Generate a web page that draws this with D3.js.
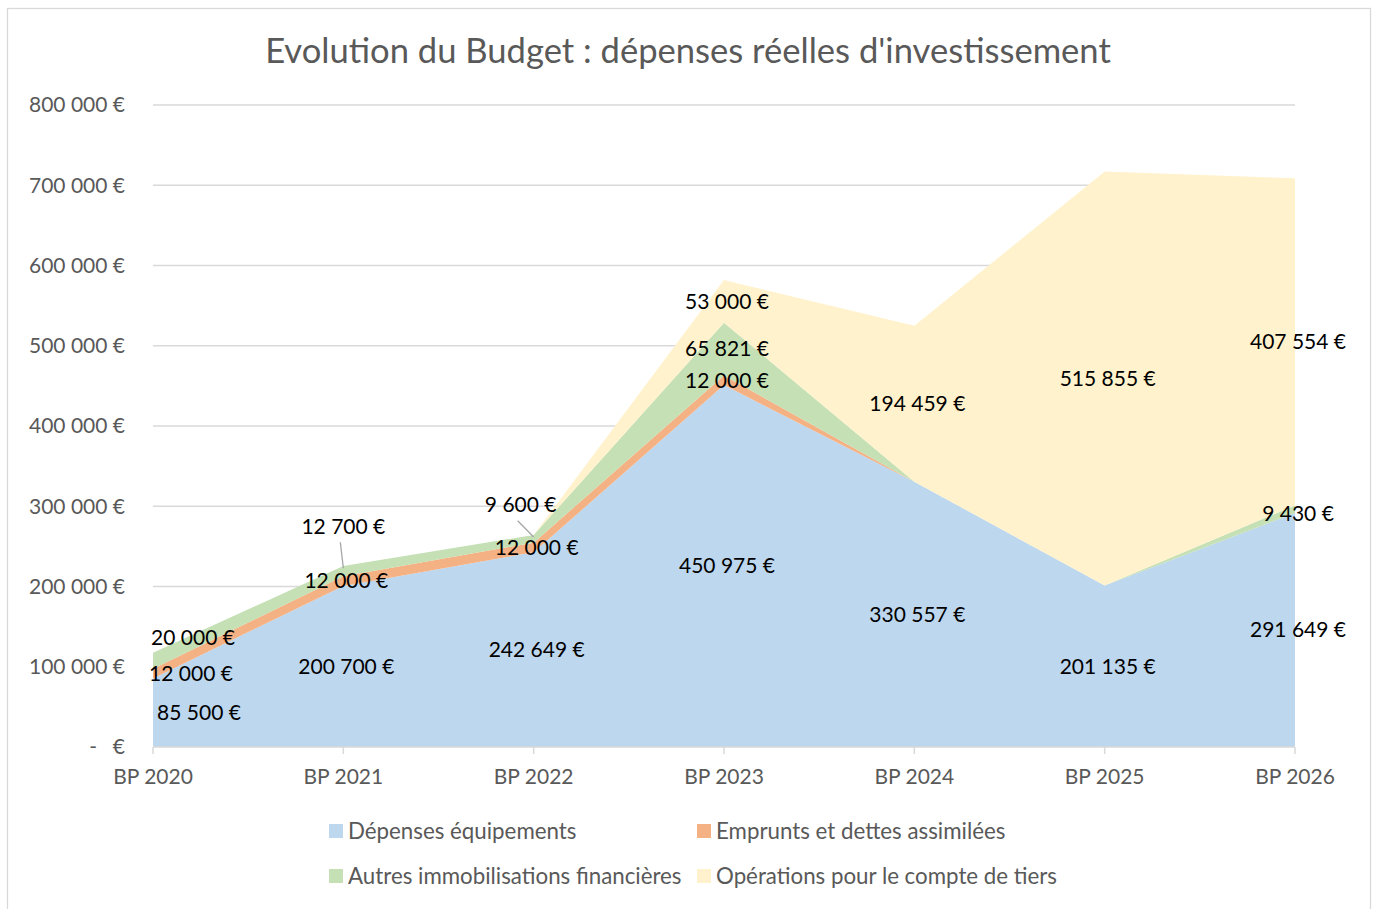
<!DOCTYPE html>
<meta charset="utf-8">
<html>
<head>
<title>Evolution du Budget</title>
<style>
  body { margin: 0; background: #fff; }
  svg text { font-family: Lato, "Open Sans", sans-serif; }
  .grid line { stroke: #d9d9d9; stroke-width: 1.3; }
  .tick-label { fill: #595959; font-size: 21px; }
  .value-label { fill: #000; font-size: 21px; text-anchor: middle; }
  .legend text { fill: #595959; font-size: 22.3px; }
</style>
<script src="https://cdnjs.cloudflare.com/ajax/libs/d3/7.8.5/d3.min.js"></script>
</head>
<body>
<svg width="1378" height="909"></svg>
<script>
  // Data
  var categories = ["BP 2020", "BP 2021", "BP 2022", "BP 2023", "BP 2024", "BP 2025", "BP 2026"];
  var seriesNames = ["Dépenses équipements", "Emprunts et dettes assimilées",
                     "Autres immobilisations financières", "Opérations pour le compte de tiers"];
  var depensesEquipements = [85500, 200700, 242649, 450975, 330557, 201135, 291649];
  var empruntsDettes      = [12000, 12000, 12000, 12000, 0, 0, 0];
  var autresImmos         = [20000, 12700, 9600, 65821, 0, 0, 9430];
  var operationsTiers     = [0, 0, 0, 53000, 194459, 515855, 407554];
  var yTicks = [0, 100000, 200000, 300000, 400000, 500000, 600000, 700000, 800000];

  var colors = ["#bdd7ee", "#f4b183", "#c5e0b4", "#fff2cc"];

  // labels that were dragged by hand in the original (series index, category index)
  var labelMoves = [
    {s: 0, i: 0, dx: 43, dy: 0},
    {s: 1, i: 0, dx: 35, dy: 0},
    {s: 2, i: 0, dx: 37, dy: -23},
    {s: 2, i: 1, dx: -3, dy: -45, leader: true},
    {s: 2, i: 2, dx: -16, dy: -34, leader: true},
    {s: 2, i: 6, dx: 0, dy: 4}
  ];

  var rows = categories.map(function (c, i) {
    return {cat: c, s0: depensesEquipements[i], s1: empruntsDettes[i], s2: autresImmos[i], s3: operationsTiers[i]};
  });

  var svg = d3.select("svg");

  var x = d3.scalePoint().domain(categories).range([153, 1295]);
  var y = d3.scaleLinear().domain([0, 800000]).range([747, 105]);

  var fr = d3.formatLocale({decimal: ",", thousands: "\u00a0", grouping: [3], currency: ["", "\u00a0€"]});
  var fmt = fr.format("$,.0f");

  // outer frame
  svg.append("rect")
      .attr("x", 7.5).attr("y", 8.5)
      .attr("width", 1363).attr("height", 910)
      .attr("fill", "none").attr("stroke", "#d9d9d9").attr("stroke-width", 1.3);

  // title
  svg.append("text")
      .attr("x", 688).attr("y", 63)
      .attr("text-anchor", "middle")
      .attr("fill", "#595959")
      .style("font-size", "34.6px")
      .text("Evolution du Budget : dépenses réelles d'investissement");

  // gridlines
  svg.append("g").attr("class", "grid")
    .selectAll("line")
    .data(yTicks.filter(function (d) { return d > 0; }))
    .enter().append("line")
      .attr("x1", 153).attr("x2", 1295)
      .attr("y1", function (d) { return y(d); })
      .attr("y2", function (d) { return y(d); });

  // y tick labels
  var yl = svg.append("g");
  yl.selectAll("text")
    .data(yTicks)
    .enter().append("text")
      .attr("class", "tick-label")
      .attr("x", 125)
      .attr("y", function (d) { return y(d); })
      .attr("dy", "0.35em")
      .attr("text-anchor", "end")
      .text(function (d) { return d === 0 ? "€" : fmt(d); });
  yl.append("text")
      .attr("class", "tick-label")
      .attr("x", 97).attr("y", y(0)).attr("dy", "0.35em")
      .attr("text-anchor", "end")
      .text("-");

  // stacked areas
  var stack = d3.stack().keys(["s0", "s1", "s2", "s3"]);
  var layers = stack(rows);

  var area = d3.area()
      .x(function (d) { return x(d.data.cat); })
      .y0(function (d) { return y(d[0]); })
      .y1(function (d) { return y(d[1]); });

  svg.append("g")
    .selectAll("path")
    .data(layers)
    .enter().append("path")
      .attr("fill", function (d, i) { return colors[i]; })
      .attr("d", area);

  // x axis
  svg.append("line")
      .attr("x1", 153).attr("x2", 1295)
      .attr("y1", 747).attr("y2", 747)
      .attr("stroke", "#d9d9d9").attr("stroke-width", 1.5);
  svg.append("g").selectAll("line")
    .data(categories)
    .enter().append("line")
      .attr("x1", function (d) { return x(d); })
      .attr("x2", function (d) { return x(d); })
      .attr("y1", 747).attr("y2", 754)
      .attr("stroke", "#d9d9d9").attr("stroke-width", 1.5);
  svg.append("g").selectAll("text")
    .data(categories)
    .enter().append("text")
      .attr("class", "tick-label")
      .attr("x", function (d) { return x(d); })
      .attr("y", 777).attr("dy", "0.35em")
      .attr("text-anchor", "middle")
      .text(function (d) { return d; });

  // value labels
  var labels = [];
  layers.forEach(function (layer, s) {
    layer.forEach(function (d, i) {
      var v = d[1] - d[0];
      if (!v) return;
      var mv = labelMoves.find(function (m) { return m.s === s && m.i === i; }) || {dx: 0, dy: 0};
      var px = x(d.data.cat), py = y((d[0] + d[1]) / 2);
      labels.push({v: v, x: px + 3 + mv.dx, y: py + mv.dy, leader: mv.leader, px: px, top: y(d[1])});
    });
  });

  svg.append("g").selectAll("line")
    .data(labels.filter(function (d) { return d.leader; }))
    .enter().append("line")
      .attr("x1", function (d) { return d.x - 3; })
      .attr("y1", function (d) { return d.y + 16; })
      .attr("x2", function (d) { return d.px; })
      .attr("y2", function (d) { return d.top + 2; })
      .attr("stroke", "#a6a6a6").attr("stroke-width", 1.3);

  svg.append("g").selectAll("text")
    .data(labels)
    .enter().append("text")
      .attr("class", "value-label")
      .attr("x", function (d) { return d.x; })
      .attr("y", function (d) { return d.y; })
      .attr("dy", "0.35em")
      .text(function (d) { return fmt(d.v); });

  // legend
  var legendPos = [[329, 831], [697, 831], [329, 876], [697, 876]];
  var lg = svg.append("g").attr("class", "legend")
    .selectAll("g")
    .data(seriesNames)
    .enter().append("g")
      .attr("transform", function (d, i) { return "translate(" + legendPos[i][0] + "," + legendPos[i][1] + ")"; });
  lg.append("rect")
      .attr("x", 0).attr("y", -7)
      .attr("width", 14).attr("height", 14)
      .attr("fill", function (d, i) { return colors[i]; });
  lg.append("text")
      .attr("x", 19).attr("dy", "0.35em")
      .text(function (d) { return d; });
</script>
</body>
</html>
